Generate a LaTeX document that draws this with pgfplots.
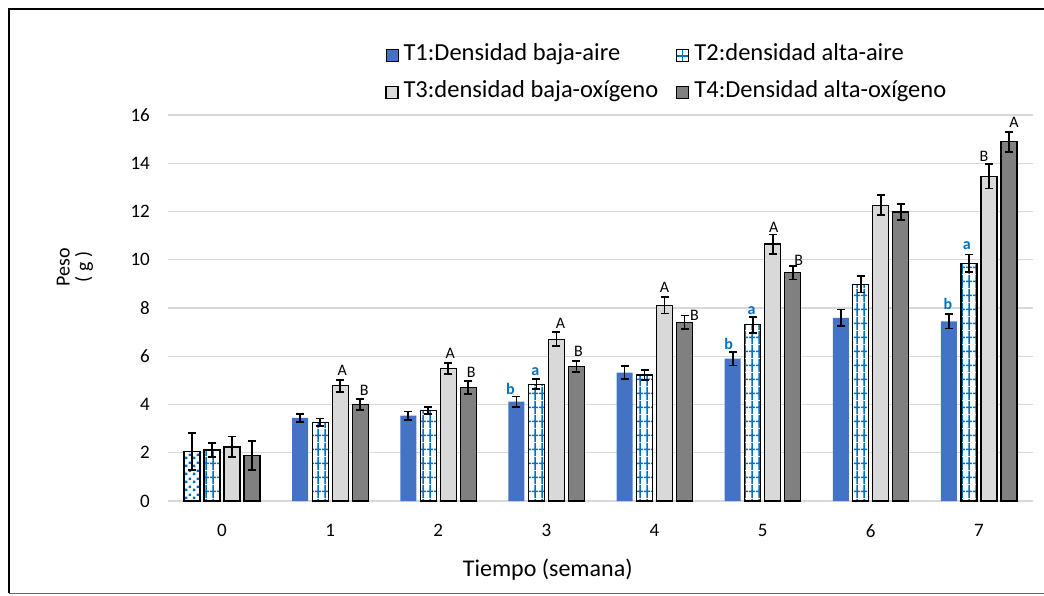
\documentclass[border=0pt]{standalone}
\usepackage{fontspec}
\setmainfont{Carlito}
\usepackage{pgfplots}
\pgfplotsset{compat=1.18}
\usepackage{pgfplotstable}
\usetikzlibrary{patterns}
\definecolor{tblue}{HTML}{4472C4}
\definecolor{pblue}{HTML}{0070C0}
\definecolor{tlgray}{HTML}{D9D9D9}
\definecolor{tdgray}{HTML}{808080}
\definecolor{gridc}{HTML}{D9D9D9}

\pgfdeclarepatternformonly{bgrid}{\pgfpointorigin}{\pgfpoint{7pt}{14pt}}{\pgfpoint{7pt}{14pt}}{%
 \pgfsetlinewidth{1.6pt}%
 \pgfpathmoveto{\pgfpoint{3.5pt}{0pt}}\pgfpathlineto{\pgfpoint{3.5pt}{14pt}}%
 \pgfpathmoveto{\pgfpoint{0pt}{7pt}}\pgfpathlineto{\pgfpoint{7pt}{7pt}}%
 \pgfusepath{stroke}}
\pgfdeclarepatternformonly{bdots}{\pgfpointorigin}{\pgfpoint{8pt}{8pt}}{\pgfpoint{8pt}{8pt}}{%
 \pgfpathrectangle{\pgfpoint{1pt}{1pt}}{\pgfpoint{2.6pt}{2.6pt}}%
 \pgfpathrectangle{\pgfpoint{5pt}{4.5pt}}{\pgfpoint{2.6pt}{2.6pt}}%
 \pgfusepath{fill}}

\pgfplotstableread{
x y e
1 3.45 0.17
2 3.54 0.17
3 4.12 0.21
4 5.32 0.26
5 5.90 0.28
6 7.59 0.35
7 7.45 0.30
}\tone
\pgfplotstableread{
x y e
0 2.04 0.77
}\tonezero
\pgfplotstableread{
x y e
0 2.11 0.29
1 3.27 0.15
2 3.74 0.15
3 4.84 0.21
4 5.22 0.22
5 7.30 0.32
6 8.98 0.34
7 9.85 0.37
}\ttwo
\pgfplotstableread{
x y e
0 2.24 0.43
1 4.78 0.25
2 5.50 0.22
3 6.70 0.29
4 8.12 0.35
5 10.65 0.40
6 12.26 0.41
7 13.46 0.51
}\tthree
\pgfplotstableread{
x y e
0 1.89 0.61
1 4.01 0.23
2 4.70 0.27
3 5.57 0.23
4 7.41 0.28
5 9.46 0.28
6 11.98 0.34
7 14.89 0.41
}\tfour

\pgfplotsset{
  mylegimg/.style={legend image code/.code={\draw[##1] (0pt,-6pt) rectangle (12pt,6pt);}},
}

\newcommand\UP[4]{\node[font=\fontsize{16}{16}\selectfont, inner sep=0pt] at (axis cs:#1,#2) [xshift=#3pt] {#4};}
\newcommand\LO[4]{\node[font=\fontsize{16}{16}\selectfont\bfseries, text=pblue, inner sep=0pt] at (axis cs:#1,#2) [xshift=#3pt] {#4};}

\begin{document}
\begin{tikzpicture}
\useasboundingbox (0pt,0pt) rectangle (1044pt,595pt);
\begin{axis}[
  at={(168pt,94pt)}, anchor=south west,
  scale only axis, width=865pt, height=386pt,
  ybar, bar width=16pt,
  xmin=-0.5, xmax=7.5, ymin=0, ymax=16,
  xtick={0,...,7}, ytick={0,2,...,16},
  ymajorgrids, grid style={gridc, line width=1.3pt},
  axis line style={draw=none},
  tick style={draw=none}, major tick length=0pt,
  clip=false,
  /pgf/number format/assume math mode=true,
  ticklabel style={font=\fontsize{19}{22}\selectfont},
  yticklabel style={inner sep=0pt, anchor=east, xshift=-18pt},
  xticklabel style={inner sep=0pt, anchor=north, yshift=-23pt},
  xlabel={Tiempo (semana)},
  xlabel style={font=\fontsize{24}{28}\selectfont, at={(axis description cs:0.439,-0.179)}, anchor=center},
  ylabel={Peso\\( g )},
  ylabel style={font=\fontsize{20}{20}\selectfont, align=center, at={(axis description cs:-0.1075,0.606)}, anchor=center},
  legend columns=2,
  legend style={at={(axis description cs:0.251,1.185)}, anchor=north west, draw=none, fill=none,
    font=\fontsize{24.5}{28}\selectfont, inner sep=0pt, row sep=14pt,
    nodes={inner xsep=5pt, inner ysep=0pt, text height=17pt, text depth=6pt},
    /tikz/every even column/.append style={column sep=13pt}},
  legend cell align=left,
  error bars/error bar style={line width=1.8pt, black},
  error bars/error mark options={rotate=90, mark size=4pt, line width=1.8pt, black},
]
\addplot[bar shift=-30pt, fill=tblue, draw=none, mylegimg,
  error bars/.cd, y dir=both, y explicit] table[x=x, y=y, y error=e]{\tone};
\addlegendentry{T1:Densidad baja-aire}
\addplot[bar shift=-10pt, fill=white, draw=black, line width=1.2pt,
  postaction={pattern=bgrid, pattern color=pblue}, mylegimg,
  error bars/.cd, y dir=both, y explicit] table[x=x, y=y, y error=e]{\ttwo};
\addlegendentry{T2:densidad alta-aire}
\addplot[bar shift=10pt, fill=tlgray, draw=black, line width=1.2pt, mylegimg,
  error bars/.cd, y dir=both, y explicit] table[x=x, y=y, y error=e]{\tthree};
\addlegendentry{T3:densidad baja-oxígeno}
\addplot[bar shift=30pt, fill=tdgray, draw=black, line width=1.2pt, mylegimg,
  error bars/.cd, y dir=both, y explicit] table[x=x, y=y, y error=e]{\tfour};
\addlegendentry{T4:Densidad alta-oxígeno}
\addplot[bar shift=-30pt, fill=white, draw=black, line width=1.2pt,
  postaction={pattern=bdots, pattern color=pblue}, forget plot,
  error bars/.cd, y dir=both, y explicit] table[x=x, y=y, y error=e]{\tonezero};

\UP{1}{5.43}{12}{A} \UP{1}{4.57}{34}{B}
\UP{2}{6.13}{12}{A} \UP{2}{5.32}{33}{B}
\LO{3}{4.64}{-36}{b} \LO{3}{5.36}{-11}{a} \UP{3}{7.37}{14}{A} \UP{3}{6.20}{32}{B}
\UP{4}{8.87}{10}{A} \UP{4}{7.71}{40}{B}
\LO{5}{6.51}{-34}{b} \LO{5}{7.89}{-11}{a} \UP{5}{11.36}{11}{A} \UP{5}{9.99}{36}{B}
\LO{7}{8.17}{-31}{b} \LO{7}{10.57}{-12}{a} \UP{7}{14.30}{5}{B} \UP{7}{15.71}{35}{A}
\end{axis}
\draw[line width=2.5pt, black] (9pt,2pt) -- (9pt,586pt) -- (1044pt,586pt);
\draw[line width=1pt, black!60] (9pt,2pt) -- (1044pt,2pt);
\end{tikzpicture}
\end{document}
